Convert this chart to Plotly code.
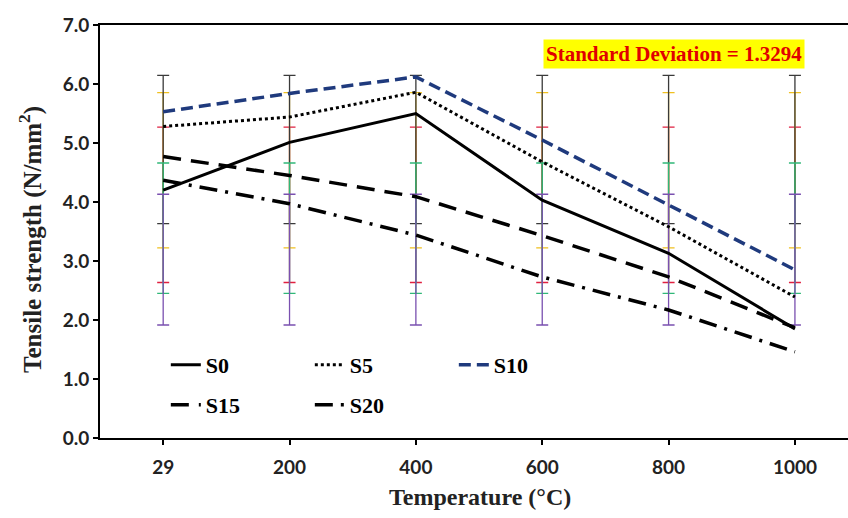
import numpy as np
import plotly.graph_objects as go

temperatures = ["29", "200", "400", "600", "800", "1000"]
series_names = ["S0", "S5", "S10", "S15", "S20"]
s0 = [4.20, 5.01, 5.50, 4.03, 3.13, 1.85]
s5 = [5.28, 5.44, 5.86, 4.68, 3.58, 2.39]
s10 = [5.53, 5.84, 6.12, 5.05, 3.95, 2.85]
s15 = [4.77, 4.45, 4.09, 3.43, 2.73, 1.87]
s20 = [4.37, 3.97, 3.44, 2.73, 2.17, 1.46]
sd_label = "Standard Deviation = 1.3294"

series = [s0, s5, s10, s15, s20]
line_colors = ["#000000", "#000000", "#1f3a7d", "#000000", "#000000"]
line_widths = [3, 3, 3.5, 3.5, 3.5]
dashes = ["solid", "3px,3px", "12px,6px", "18px,10px", "18px,8px,3px,8px"]
err_colors = ["#e02040", "#f0c020", "#3a3a3a", "#30b878", "#7a50b0"]
legend_ids = ["legend", "legend", "legend", "legend2", "legend2"]

fig = go.Figure()

# Excel-style "standard deviation" error bars: centred on each series' mean
for name, vals, c in zip(series_names, series, err_colors):
    arr = np.array(vals)
    m = arr.mean()
    s = arr.std(ddof=1)
    fig.add_trace(go.Scatter(
        x=temperatures, y=[m] * len(temperatures), mode="markers",
        marker=dict(size=1, color="rgba(0,0,0,0)"),
        error_y=dict(type="constant", value=s, color=c, thickness=1.3, width=6),
        showlegend=False, hoverinfo="skip"))

for name, vals, c, w, d, lg in zip(series_names, series, line_colors, line_widths, dashes, legend_ids):
    fig.add_trace(go.Scatter(
        x=temperatures, y=vals, mode="lines", name=name,
        line=dict(color=c, width=w, dash=d), legend=lg))

legend_font = dict(family="Liberation Serif", size=22, color="#000", weight="bold")
tick_font = dict(family="Lato", size=19, color="#222", weight="bold")
fig.update_layout(
    width=848, height=518,
    margin=dict(l=100, r=0, t=25, b=80),
    paper_bgcolor="white", plot_bgcolor="white",
    legend=dict(orientation="h", x=0.088, y=0.177, xanchor="left", yanchor="middle",
                entrywidth=99, entrywidthmode="pixels", font=legend_font,
                bgcolor="rgba(0,0,0,0)", traceorder="normal"),
    legend2=dict(orientation="h", x=0.088, y=0.080, xanchor="left", yanchor="middle",
                 entrywidth=99, entrywidthmode="pixels", font=legend_font,
                 bgcolor="rgba(0,0,0,0)", traceorder="normal"),
    xaxis=dict(type="category", range=[-0.5, 5.42], showline=True, linecolor="#000",
               linewidth=2, mirror=True, ticks="outside", ticklen=5, tickcolor="#000",
               tickwidth=2, showgrid=False, zeroline=False, ticklabelstandoff=6,
               tickfont=tick_font),
    yaxis=dict(range=[0, 7], dtick=1, tickformat=".1f", showline=True, linecolor="#000",
               linewidth=2, ticks="outside", ticklen=5, tickcolor="#000", tickwidth=2,
               showgrid=False, zeroline=False, tickfont=tick_font),
    annotations=[
        dict(text="Tensile strength (N/mm<sup>2</sup>)", xref="paper", yref="paper",
             x=-0.0923, y=0.482, xanchor="center", yanchor="middle", textangle=-90,
             showarrow=False,
             font=dict(family="Liberation Serif", size=25, color="#222", weight="bold")),
        dict(text="Temperature (°C)", xref="paper", yref="paper",
             x=0.508, y=-0.143, xanchor="center", yanchor="middle", showarrow=False,
             font=dict(family="Liberation Serif", size=24, color="#222", weight="bold")),
        dict(text=sd_label, xref="paper", yref="paper", x=0.767, y=0.930,
             xanchor="center", yanchor="middle", showarrow=False, bgcolor="#ffff00",
             borderpad=2,
             font=dict(family="Liberation Serif", size=21, color="#e00000", weight="bold")),
    ],
)

fig.write_html("out.html")
